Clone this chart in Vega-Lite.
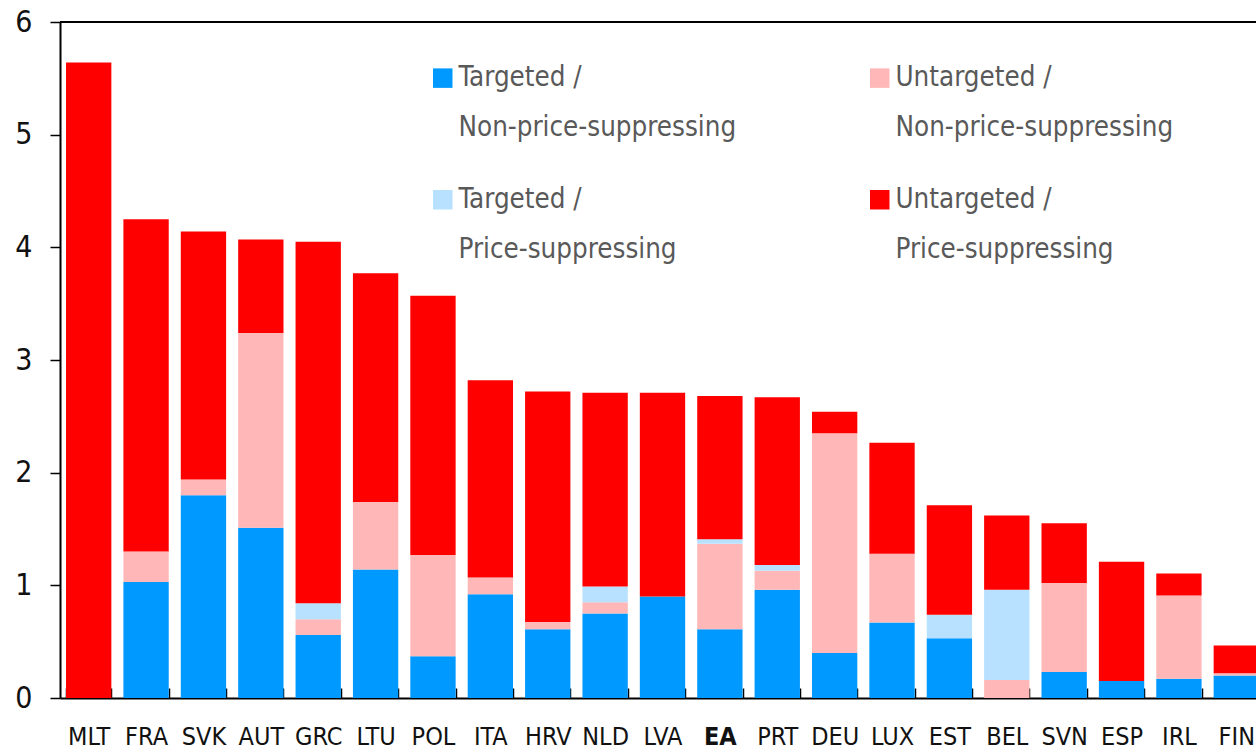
{
  "$schema": "https://vega.github.io/schema/vega-lite/v6.json",
  "width": 1196,
  "height": 676,
  "autosize": {"type": "none"},
  "padding": {"left": 60, "top": 22, "right": 0, "bottom": 54},
  "background": "white",
  "config": {"view": {"stroke": null}, "font": "DejaVu Sans Condensed, Liberation Sans Narrow, Liberation Sans, sans-serif"},
  "data": {"values": [
    {"c": "MLT", "t": "4UP", "v": 5.64},
    {"c": "FRA", "t": "1TN", "v": 1.03}, {"c": "FRA", "t": "2UN", "v": 0.27}, {"c": "FRA", "t": "4UP", "v": 2.95},
    {"c": "SVK", "t": "1TN", "v": 1.80}, {"c": "SVK", "t": "2UN", "v": 0.14}, {"c": "SVK", "t": "4UP", "v": 2.20},
    {"c": "AUT", "t": "1TN", "v": 1.51}, {"c": "AUT", "t": "2UN", "v": 1.73}, {"c": "AUT", "t": "4UP", "v": 0.83},
    {"c": "GRC", "t": "1TN", "v": 0.56}, {"c": "GRC", "t": "2UN", "v": 0.14}, {"c": "GRC", "t": "3TP", "v": 0.14}, {"c": "GRC", "t": "4UP", "v": 3.21},
    {"c": "LTU", "t": "1TN", "v": 1.14}, {"c": "LTU", "t": "2UN", "v": 0.60}, {"c": "LTU", "t": "4UP", "v": 2.03},
    {"c": "POL", "t": "1TN", "v": 0.37}, {"c": "POL", "t": "2UN", "v": 0.90}, {"c": "POL", "t": "4UP", "v": 2.30},
    {"c": "ITA", "t": "1TN", "v": 0.92}, {"c": "ITA", "t": "2UN", "v": 0.15}, {"c": "ITA", "t": "4UP", "v": 1.75},
    {"c": "HRV", "t": "1TN", "v": 0.61}, {"c": "HRV", "t": "2UN", "v": 0.065}, {"c": "HRV", "t": "4UP", "v": 2.045},
    {"c": "NLD", "t": "1TN", "v": 0.75}, {"c": "NLD", "t": "2UN", "v": 0.10}, {"c": "NLD", "t": "3TP", "v": 0.14}, {"c": "NLD", "t": "4UP", "v": 1.72},
    {"c": "LVA", "t": "1TN", "v": 0.90}, {"c": "LVA", "t": "4UP", "v": 1.81},
    {"c": "EA", "t": "1TN", "v": 0.61}, {"c": "EA", "t": "2UN", "v": 0.76}, {"c": "EA", "t": "3TP", "v": 0.04}, {"c": "EA", "t": "4UP", "v": 1.27},
    {"c": "PRT", "t": "1TN", "v": 0.96}, {"c": "PRT", "t": "2UN", "v": 0.17}, {"c": "PRT", "t": "3TP", "v": 0.05}, {"c": "PRT", "t": "4UP", "v": 1.49},
    {"c": "DEU", "t": "1TN", "v": 0.40}, {"c": "DEU", "t": "2UN", "v": 1.95}, {"c": "DEU", "t": "4UP", "v": 0.19},
    {"c": "LUX", "t": "1TN", "v": 0.67}, {"c": "LUX", "t": "2UN", "v": 0.61}, {"c": "LUX", "t": "4UP", "v": 0.985},
    {"c": "EST", "t": "1TN", "v": 0.53}, {"c": "EST", "t": "3TP", "v": 0.21}, {"c": "EST", "t": "4UP", "v": 0.97},
    {"c": "BEL", "t": "2UN", "v": 0.16}, {"c": "BEL", "t": "3TP", "v": 0.80}, {"c": "BEL", "t": "4UP", "v": 0.66},
    {"c": "SVN", "t": "1TN", "v": 0.23}, {"c": "SVN", "t": "2UN", "v": 0.79}, {"c": "SVN", "t": "4UP", "v": 0.53},
    {"c": "ESP", "t": "1TN", "v": 0.15}, {"c": "ESP", "t": "4UP", "v": 1.06},
    {"c": "IRL", "t": "1TN", "v": 0.17}, {"c": "IRL", "t": "2UN", "v": 0.74}, {"c": "IRL", "t": "4UP", "v": 0.195},
    {"c": "FIN", "t": "1TN", "v": 0.20}, {"c": "FIN", "t": "2UN", "v": 0.02}, {"c": "FIN", "t": "4UP", "v": 0.245}
  ]},
  "layer": [
    {
      "mark": {"type": "bar"},
      "encoding": {
        "x": {
          "field": "c", "type": "nominal", "sort": null,
          "scale": {"range": [0, 1205], "paddingInner": 0.21, "paddingOuter": 0.105},
          "axis": {
            "title": null, "labelAngle": 0, "domainColor": "black", "domainWidth": 2,
            "tickColor": "black", "tickWidth": 1.5, "tickSize": -10, "tickBand": "extent",
            "labelFontSize": 25, "labelColor": "#111", "labelPadding": 36, "labelBaseline": "top",
            "labelFontWeight": {"condition": {"test": "datum.value === 'EA'", "value": "bold"}, "value": "normal"}
          }
        },
        "y": {
          "field": "v", "type": "quantitative", "aggregate": "sum", "stack": "zero",
          "scale": {"domain": [0, 6], "nice": false},
          "axis": {
            "title": null, "values": [0, 1, 2, 3, 4, 5, 6], "format": "d", "grid": false,
            "domainColor": "black", "domainWidth": 2, "tickColor": "black", "tickWidth": 1.5, "tickSize": 10,
            "labelFontSize": 30, "labelColor": "#111", "labelPadding": 18
          }
        },
        "order": {"field": "t", "sort": "ascending"},
        "color": {
          "field": "t", "type": "nominal",
          "scale": {"domain": ["1TN", "3TP", "2UN", "4UP"], "range": ["#0099FF", "#B7E1FF", "#FFB7B7", "#FF0000"]},
          "legend": {
            "title": null, "orient": "none", "legendX": 369, "legendY": 42, "columns": 2,
            "columnPadding": 129, "rowPadding": 43,
            "symbolType": "square", "symbolSize": 380, "symbolStrokeWidth": 0, "symbolOpacity": 1,
            "labelFontSize": 27.5, "labelColor": "#595959", "labelOffset": 2, "labelLimit": 500, "labelBaseline": "middle",
            "labelExpr": "datum.label == '1TN' ? ['Targeted /', 'Non-price-suppressing'] : datum.label == '2UN' ? ['Untargeted /', 'Non-price-suppressing'] : datum.label == '3TP' ? ['Targeted /', 'Price-suppressing'] : ['Untargeted /', 'Price-suppressing']",
            "encode": {"labels": {"update": {"lineHeight": {"value": 50}}}}
          }
        }
      }
    },
    {
      "mark": {"type": "rule", "color": "black", "strokeWidth": 2},
      "encoding": {"y": {"datum": 6}}
    }
  ]
}
